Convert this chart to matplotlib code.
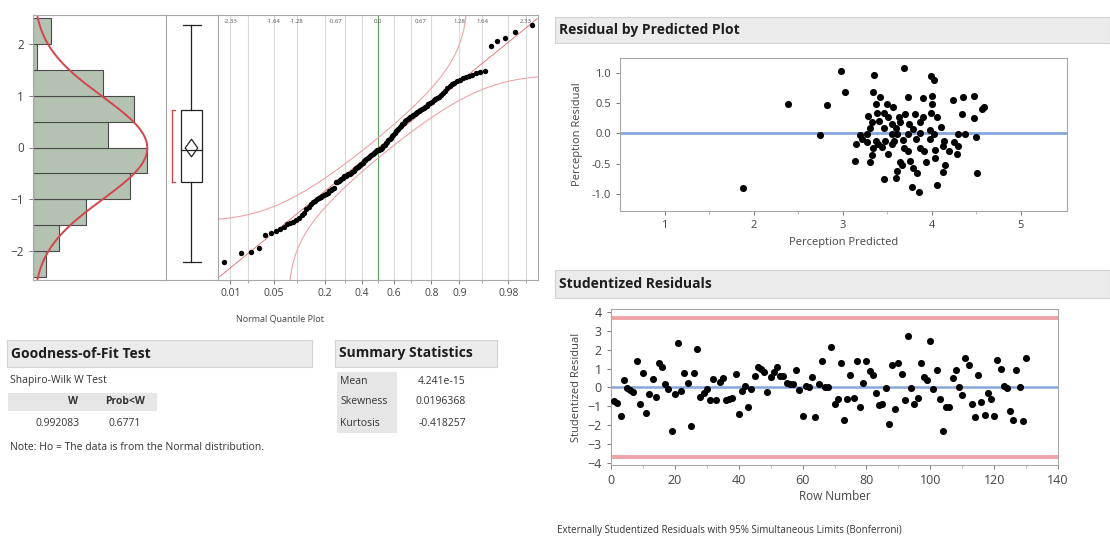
import numpy as np
import matplotlib
matplotlib.use("Agg")
import matplotlib.pyplot as plt
from matplotlib.patches import Rectangle, Polygon
from statistics import NormalDist

plt.rcParams["font.family"] = ["Open Sans", "DejaVu Sans"]

W, H = 1110, 542

# residuals (sorted) used by the distribution panel
dist_values = [
    -2.22, -2.04, -2.01,
    -1.95, -1.70, -1.66, -1.61, -1.57, -1.53,
    -1.48, -1.46, -1.44, -1.41, -1.37, -1.31, -1.26, -1.19, -1.14, -1.10, -1.06, -1.03,
    -0.99, -0.97, -0.95, -0.93, -0.91, -0.89, -0.87, -0.85, -0.83, -0.81, -0.79,
    -0.67, -0.66, -0.64, -0.62, -0.60, -0.58, -0.56, -0.55, -0.53, -0.52, -0.51,
    -0.49, -0.47, -0.45, -0.42, -0.40, -0.38, -0.36, -0.34, -0.31, -0.29, -0.27, -0.25, -0.22,
    -0.20, -0.18, -0.16, -0.14, -0.12, -0.10, -0.08, -0.07, -0.05, -0.04, -0.03, -0.02, -0.01,
    0.02, 0.05, 0.08, 0.11, 0.14, 0.17, 0.19, 0.22, 0.25, 0.28, 0.31, 0.33, 0.36, 0.39, 0.42, 0.45, 0.48,
    0.51, 0.53, 0.55, 0.57, 0.59, 0.61, 0.63, 0.65, 0.67, 0.69, 0.71, 0.73, 0.75, 0.77, 0.79, 0.81,
    0.84, 0.86, 0.88, 0.91, 0.93, 0.95, 0.98,
    1.02, 1.06, 1.10, 1.14, 1.18, 1.22, 1.25, 1.28, 1.31, 1.34, 1.37, 1.39, 1.41, 1.43, 1.45, 1.48,
    1.97, 2.06, 2.11, 2.23, 2.36,
]

hist_bins = [-2.5, -2.0, -1.5, -1.0, -0.5, 0.0, 0.5, 1.0, 1.5, 2.0, 2.5]
prob_grid = [0.01, 0.02, 0.05, 0.1, 0.2, 0.3, 0.4, 0.5, 0.6, 0.7, 0.8, 0.9, 0.95, 0.98, 0.99]
prob_labels = [0.01, 0.05, 0.2, 0.4, 0.6, 0.8, 0.9, 0.98]
prob_label_txt = ["0.01", "0.05", "0.2", "0.4", "0.6", "0.8", "0.9", "0.98"]
top_q_labels = ["-2.33", "-1.64", "-1.28", "-0.67", "0.0", "0.67", "1.28", "1.64", "2.33"]
top_q_probs = [0.01, 0.05, 0.1, 0.25, 0.5, 0.75, 0.9, 0.95, 0.99]
lilliefors_d = 0.0777

# residual by predicted
pred_x = [1.88, 2.39, 2.75, 2.82, 2.98, 3.35, 3.69, 3.99, 4.03, 3.03, 3.34, 3.42, 3.73, 3.90, 4.00,
          4.24, 4.35, 4.47, 3.38, 3.50, 3.57, 4.00, 4.34, 3.28, 3.39, 3.46, 3.51, 3.63, 3.70, 3.81,
          3.90, 3.99, 4.06, 3.33, 3.41, 3.55, 3.65, 3.75, 3.87, 3.31, 3.46, 3.60, 3.79, 3.98, 4.11,
          3.19, 3.27, 3.55, 3.61, 3.73, 3.87, 4.03, 4.30, 4.38, 3.22, 3.27, 3.37, 3.48, 3.58, 3.68,
          3.82, 3.98, 4.14, 3.15, 3.40, 3.55, 4.25, 3.34, 3.44, 3.69, 3.87, 4.04, 4.13, 4.30, 3.33,
          3.51, 3.73, 3.91, 4.20, 4.28, 3.14, 3.31, 3.65, 3.76, 3.94, 4.04, 4.15, 3.61, 3.67, 3.79,
          3.83, 4.13, 3.46, 3.60, 4.06, 3.78, 3.86, 4.50, 4.51, 4.57, 4.59, 4.48]
pred_res = [-0.90, 0.49, -0.03, 0.46, 1.03, 0.96, 1.07, 0.94, 0.88, 0.68, 0.68, 0.59, 0.59, 0.58, 0.62,
            0.54, 0.59, 0.62, 0.48, 0.48, 0.44, 0.48, 0.32, 0.29, 0.33, 0.34, 0.27, 0.26, 0.32, 0.32,
            0.26, 0.34, 0.27, 0.18, 0.21, 0.15, 0.18, 0.16, 0.18, 0.08, 0.09, 0.08, 0.07, 0.05, 0.11,
            -0.03, -0.02, -0.01, -0.02, -0.01, 0.01, -0.01, -0.01, -0.02, -0.10, -0.14, -0.13, -0.12, -0.12, -0.11,
            -0.10, -0.09, -0.12, -0.17, -0.17, -0.17, -0.14, -0.24, -0.23, -0.25, -0.25, -0.28, -0.21, -0.21, -0.35,
            -0.34, -0.29, -0.29, -0.29, -0.34, -0.45, -0.47, -0.47, -0.45, -0.47, -0.41, -0.52, -0.62, -0.52, -0.58,
            -0.66, -0.63, -0.75, -0.73, -0.85, -0.89, -0.96, -0.06, -0.65, 0.40, 0.43, 0.25]

# externally studentized residuals by row
stud_res = [-0.70, -0.80, -1.50, 0.40, -0.05, -0.15, -0.25, 1.40, -0.90, 0.75,
            -1.35, -0.35, 0.45, -0.50, 1.30, 1.10, 0.20, -0.10, -2.30, -0.35,
            2.35, -0.20, 0.75, 0.25, -2.05, 0.75, 2.05, -0.50, -0.30, -0.10,
            -0.65, 0.45, -0.65, 0.30, 0.50, -0.65, -0.60, -0.55, 0.70, -1.40,
            -0.20, 0.10, -1.05, -0.10, 0.60, 1.10, 1.00, 0.80, -0.25, 0.55,
            0.80, 1.10, 0.60, 0.60, 0.25, 0.20, 0.20, 0.95, -0.15, -1.50,
            0.10, 0.00, 0.55, -1.55, 0.20, 1.40, 0.00, 0.00, 2.15, -0.90,
            -0.60, 1.30, -1.70, -0.60, 0.65, -0.55, 1.40, -1.05, 0.25, 1.40,
            0.85, 0.65, -0.30, -0.95, -0.85, -0.05, -1.95, 1.20, -1.15, 1.30,
            0.70, -0.65, 2.70, -0.05, -0.90, -0.55, 1.30, 0.55, 0.40, 2.45,
            -0.10, 0.90, -0.60, -2.30, -1.05, -1.05, 0.50, 0.90, 0.00, -0.40,
            1.55, 1.20, -0.90, -1.55, 0.65, -0.75, -1.45, -0.30, -0.60, -1.50,
            1.45, 1.00, 0.10, -0.05, -1.25, -1.70, 0.95, 0.00, -1.75, 1.55]
bonferroni_limit = 3.68

TXT = "#333333"
SPINE = "#a8a8a8"
HDR_BG = "#ebebeb"
RED = "#d8434a"
PINK = "#eda3a8"
BLUE = "#85a6de"


def ax_px(x0, y0, x1, y1):
    return fig.add_axes([x0 / W, 1 - y1 / H, (x1 - x0) / W, (y1 - y0) / H])


def fx(x):
    return x / W


def fy(y):
    return 1 - y / H


def box_px(x0, y0, x1, y1, fc, ec="none", lw=0.8):
    fig.add_artist(Rectangle((fx(x0), fy(y1)), (x1 - x0) / W, (y1 - y0) / H,
                             transform=fig.transFigure, facecolor=fc, edgecolor=ec,
                             linewidth=lw, zorder=0))


def header(x0, y0, x1, y1, text):
    box_px(x0, y0, x1, y1, HDR_BG, "#d2d2d2")
    fig.text(fx(x0 + 4), fy((y0 + y1) / 2), text, fontsize=10, fontweight="bold",
             color="#1e1e1e", va="center", ha="left")


def style_axes(ax):
    for s in ax.spines.values():
        s.set_color(SPINE)
        s.set_linewidth(0.8)
    ax.tick_params(colors="#7a7a7a", labelcolor="#444444", labelsize=8, length=3, width=0.7)


fig = plt.figure(figsize=(W / 100, H / 100), dpi=100)

vals = np.array(dist_values)
n = len(vals)
mu = vals.mean()
sd = vals.std(ddof=1)
nd = NormalDist()
ylim = (-2.56, 2.56)

# ---- histogram
ax_h = ax_px(33, 15, 166, 280)
ax_h.hist(vals, bins=hist_bins, orientation="horizontal", color="#b4c3b1",
          edgecolor="#4a4a4a", linewidth=0.8)
yy = np.linspace(ylim[0], ylim[1], 300)
dens = n * 0.5 * np.exp(-0.5 * ((yy - mu) / sd) ** 2) / (sd * np.sqrt(2 * np.pi))
ax_h.plot(dens, yy, color=RED, lw=1.4)
ax_h.set_xlim(0, 30.3)
ax_h.set_ylim(*ylim)
ax_h.set_xticks([])
ax_h.set_yticks([-2, -1, 0, 1, 2])
style_axes(ax_h)
ax_h.tick_params(axis="y", labelsize=8.5)
ax_h.spines["right"].set_visible(False)

# ---- box plot
ax_b = ax_px(166, 15, 218, 280)
q1, med, q3 = np.percentile(vals, [25, 50, 75])
iqr = q3 - q1
lo_w = vals[vals >= q1 - 1.5 * iqr].min()
hi_w = vals[vals <= q3 + 1.5 * iqr].max()
bx0, bx1, bc = 0.29, 0.69, 0.49
ax_b.add_patch(Rectangle((bx0, q1), bx1 - bx0, q3 - q1, fill=False, ec="#222222", lw=0.9))
ax_b.plot([bx0, bx1], [med, med], color="#222222", lw=0.9)
ax_b.plot([bc, bc], [q3, hi_w], color="#222222", lw=0.9)
ax_b.plot([bc, bc], [lo_w, q1], color="#222222", lw=0.9)
ax_b.plot([bx0 + 0.04, bx1 - 0.02], [hi_w, hi_w], color="#222222", lw=0.9)
ax_b.plot([bx0 + 0.04, bx1 - 0.02], [lo_w, lo_w], color="#222222", lw=0.9)
ci = 1.96 * sd / np.sqrt(n)
ax_b.add_patch(Polygon([[bc - 0.12, mu], [bc, mu + ci], [bc + 0.12, mu], [bc, mu - ci]],
                       closed=True, fill=False, ec="#222222", lw=0.9))
half = n // 2
spans = vals[half:] - vals[:n - half]
k = int(np.argmin(spans))
sh_lo, sh_hi = vals[k], vals[k + half]
ax_b.plot([0.11, 0.11], [sh_lo, sh_hi], color=RED, lw=0.9)
ax_b.plot([0.11, 0.17], [sh_lo, sh_lo], color=RED, lw=0.9)
ax_b.plot([0.11, 0.17], [sh_hi, sh_hi], color=RED, lw=0.9)
ax_b.set_xlim(0, 1)
ax_b.set_ylim(*ylim)
ax_b.set_xticks([])
ax_b.set_yticks([])
style_axes(ax_b)

# ---- normal quantile plot
ax_q = ax_px(218, 15, 538, 280)
ranks = np.arange(1, n + 1)
qx = np.array([nd.inv_cdf(r / (n + 1)) for r in ranks])
for p in prob_grid:
    q = nd.inv_cdf(p)
    ax_q.axvline(q, color="#5aa05a" if p == 0.5 else "#d9d9d9", lw=0.8, zorder=0)
qq = np.linspace(-2.6, 2.6, 400)
ax_q.plot(qq, mu + sd * qq, color=RED, lw=0.6, alpha=0.8)
cdf = np.array([nd.cdf(v) for v in qq])
up = cdf + lilliefors_d
dn = cdf - lilliefors_d
m_up = up < 0.9999
m_dn = dn > 0.0001
ax_q.plot(qq[m_up], mu + sd * np.array([nd.inv_cdf(p) for p in up[m_up]]), color=PINK, lw=0.8)
ax_q.plot(qq[m_dn], mu + sd * np.array([nd.inv_cdf(p) for p in dn[m_dn]]), color=PINK, lw=0.8)
ax_q.scatter(qx, np.sort(vals), s=15, color="black", zorder=3, linewidths=0)
ax_q.set_xlim(-2.52, 2.52)
ax_q.set_ylim(*ylim)
ax_q.set_xticks([nd.inv_cdf(p) for p in prob_labels])
ax_q.set_xticklabels(prob_label_txt)
ax_q.set_xticks([nd.inv_cdf(p) for p in prob_grid], minor=True)
ax_q.set_yticks([])
style_axes(ax_q)
ax_q.tick_params(axis="x", labelsize=7.5, pad=3)
ax_q.tick_params(axis="x", which="minor", length=2, colors="#9a9a9a")
for lab, p in zip(top_q_labels, top_q_probs):
    ax_q.text(nd.inv_cdf(p), 2.44, lab, fontsize=4.3, color="#555555", ha="center", va="center")
fig.text(fx(280), fy(319), "Normal Quantile Plot", fontsize=6.5, color="#444444",
         ha="center", va="center")

# ---- goodness-of-fit table
header(7, 340, 312, 367, "Goodness-of-Fit Test")
fig.text(fx(10), fy(380), "Shapiro-Wilk W Test", fontsize=7.5, color=TXT, va="center")
box_px(8, 393, 157, 411, "#e6e6e6")
fig.text(fx(78), fy(402), "W", fontsize=7.5, fontweight="bold", color=TXT, va="center", ha="right")
fig.text(fx(125), fy(402), "Prob<W", fontsize=7.5, fontweight="bold", color=TXT, va="center", ha="center")
fig.text(fx(80), fy(423), "0.992083", fontsize=7.5, color=TXT, va="center", ha="right")
fig.text(fx(125), fy(423), "0.6771", fontsize=7.5, color=TXT, va="center", ha="center")
fig.text(fx(10), fy(448), "Note: Ho = The data is from the Normal distribution.", fontsize=7.5,
         color=TXT, va="center")

# ---- summary statistics table
header(335, 340, 497, 367, "Summary Statistics")
box_px(337, 372, 397, 433, "#e6e6e6")
for lab, val, y in [("Mean", "4.241e-15", 382), ("Skewness", "0.0196368", 402),
                    ("Kurtosis", "-0.418257", 423)]:
    fig.text(fx(340), fy(y), lab, fontsize=7.5, color=TXT, va="center")
    fig.text(fx(466), fy(y), val, fontsize=7.5, color=TXT, va="center", ha="right")

# ---- residual by predicted
header(555, 17, 1110, 43, "Residual by Predicted Plot")
ax_r = ax_px(620, 58, 1067, 211)
ax_r.axhline(0, color=BLUE, lw=2, zorder=1)
ax_r.scatter(pred_x, pred_res, s=26, color="black", zorder=3, linewidths=0)
ax_r.set_xlim(0.5, 5.52)
ax_r.set_ylim(-1.28, 1.24)
ax_r.set_xticks([1, 2, 3, 4, 5])
ax_r.set_xticks([1.5, 2.5, 3.5, 4.5], minor=True)
ax_r.set_yticks([-1.0, -0.5, 0.0, 0.5, 1.0])
ax_r.set_yticklabels(["-1.0", "-0.5", "0.0", "0.5", "1.0"])
style_axes(ax_r)
ax_r.tick_params(which="minor", length=2, colors="#b0b0b0")
ax_r.set_xlabel("Perception Predicted", fontsize=8, color="#444444", labelpad=4)
ax_r.set_ylabel("Perception Residual", fontsize=8, color="#444444", labelpad=6)

# ---- studentized residuals
header(555, 270, 1110, 298, "Studentized Residuals")
ax_s = ax_px(611, 309, 1058, 465)
rows = np.arange(1, len(stud_res) + 1)
ax_s.axhline(0, color=BLUE, lw=1.8, zorder=1)
ax_s.axhline(bonferroni_limit, color=PINK, lw=2.8, zorder=1)
ax_s.axhline(-bonferroni_limit, color=PINK, lw=2.8, zorder=1)
ax_s.scatter(rows, stud_res, s=26, color="black", zorder=3, linewidths=0)
ax_s.set_xlim(0, 140)
ax_s.set_ylim(-4.1, 4.15)
ax_s.set_xticks(range(0, 141, 20))
ax_s.set_xticks(range(10, 140, 20), minor=True)
ax_s.set_yticks(range(-4, 5))
style_axes(ax_s)
ax_s.tick_params(labelsize=9)
ax_s.tick_params(which="minor", length=2, colors="#b0b0b0")
ax_s.set_xlabel("Row Number", fontsize=8.5, color="#444444", labelpad=2)
ax_s.set_ylabel("Studentized Residual", fontsize=8, color="#444444", labelpad=4)
fig.text(fx(557), fy(530), "Externally Studentized Residuals with 95% Simultaneous Limits (Bonferroni)",
         fontsize=7, color=TXT, va="center")

fig.savefig("out.png", dpi=100)
